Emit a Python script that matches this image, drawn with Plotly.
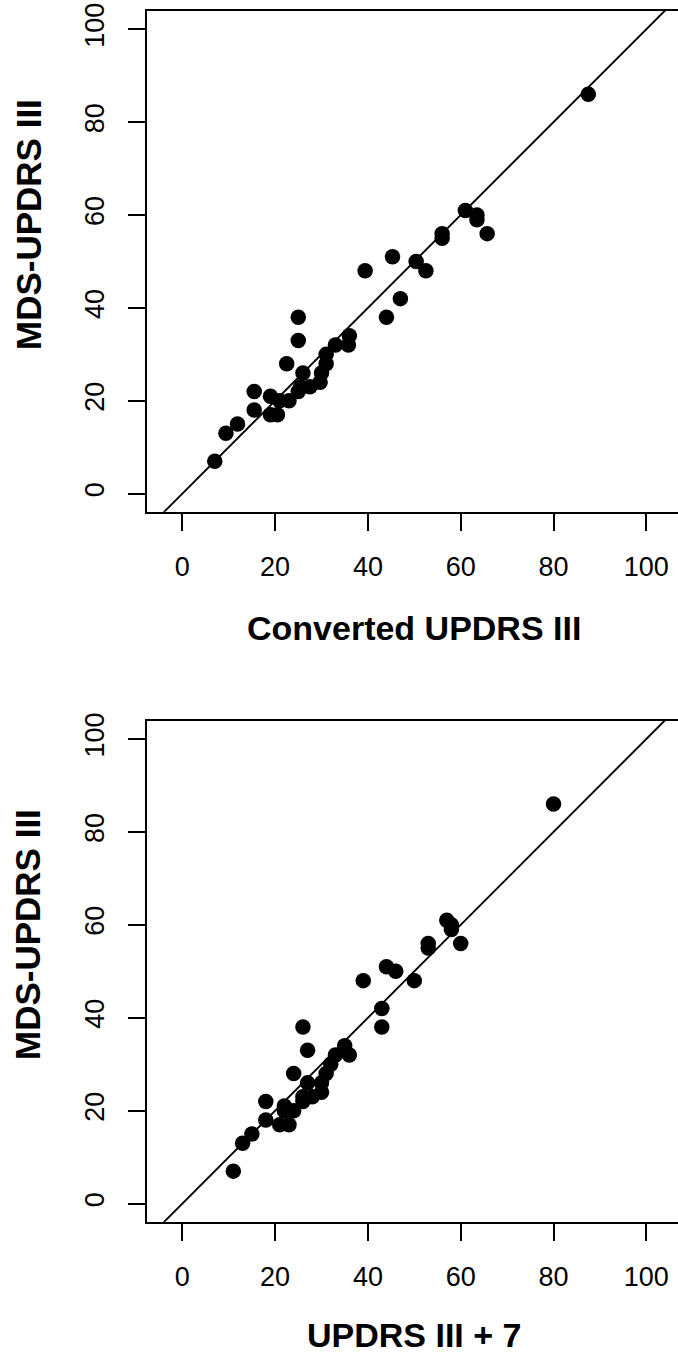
import plotly.graph_objects as go

# ---- data ----
mds_updrs_iii = [7, 13, 15, 22, 18, 21, 17, 17, 20, 20, 28, 38, 33, 22, 23, 26, 23, 24, 26,
                 28, 30, 32, 32, 34, 48, 38, 42, 51, 50, 48, 56, 55, 61, 60, 59, 56, 86]
converted_updrs_iii = [7, 9.4, 11.9, 15.5, 15.5, 19, 19, 20.5, 21, 23, 22.5, 25, 25, 25, 25.5,
                       26, 27.5, 29.7, 30, 31, 31, 33, 35.8, 36, 39.4, 44, 47, 45.3, 50.4, 52.5,
                       56, 56, 61, 63.5, 63.5, 65.7, 87.5]
updrs_iii_plus7 = [11, 13, 15, 18, 18, 22, 21, 23, 22, 24, 24, 26, 27, 26, 26, 27, 28, 30, 30,
                   31, 32, 33, 36, 35, 39, 43, 43, 44, 46, 50, 53, 53, 57, 58, 58, 60, 80]
identity_line = [-20, 130]          # y = x reference line (abline(0, 1))
tick_values = [0, 20, 40, 60, 80, 100]
tick_labels = ["0", "20", "40", "60", "80", "100"]
x_titles = ["Converted UPDRS III", "UPDRS III + 7"]
y_title = "MDS-UPDRS III"

W, H = 678, 1357
FONT = "Liberation Sans, Arial, Helvetica, sans-serif"

fig = go.Figure()
panels = [(converted_updrs_iii, "x", "y"), (updrs_iii_plus7, "x2", "y2")]
for xs, xa, ya in panels:
    fig.add_trace(go.Scatter(x=xs, y=mds_updrs_iii, mode="markers",
                             marker=dict(size=15.5, color="black", line=dict(width=0)),
                             xaxis=xa, yaxis=ya, hoverinfo="x+y"))
    fig.add_trace(go.Scatter(x=identity_line, y=identity_line, mode="lines",
                             line=dict(color="black", width=1.9),
                             xaxis=xa, yaxis=ya, hoverinfo="skip"))

x_left_px = 146.7
top_panel = (11.0, 511.7)
bot_panel = (720.7, 1221.7)

def ydom(p):
    return [(H - p[1]) / H, (H - p[0]) / H]

common_x = dict(range=[-7.67, 106.83], tickvals=tick_values, ticktext=tick_labels,
                ticks="outside", ticklen=17, tickwidth=1.9, tickcolor="black",
                showline=True, linewidth=2, linecolor="black", mirror=True,
                showgrid=False, zeroline=False, ticklabelstandoff=13,
                tickfont=dict(family=FONT, size=27, color="black"),
                domain=[x_left_px / W, 1.0], automargin=False, fixedrange=True)
common_y = dict(range=[-3.88, 103.94], tickvals=tick_values, ticktext=tick_labels,
                ticks="outside", ticklen=17, tickwidth=1.9, tickcolor="black",
                showline=True, linewidth=2, linecolor="black", mirror=False,
                showgrid=False, zeroline=False, tickangle=-90, ticklabelstandoff=13,
                tickfont=dict(family=FONT, size=27, color="black"),
                automargin=False, fixedrange=True)

fig.update_layout(
    width=W, height=H,
    margin=dict(l=0, r=0, t=0, b=0),
    paper_bgcolor="white", plot_bgcolor="white",
    showlegend=False,
    xaxis=dict(common_x, anchor="y"),
    yaxis=dict(common_y, anchor="x", domain=ydom(top_panel)),
    xaxis2=dict(common_x, anchor="y2"),
    yaxis2=dict(common_y, anchor="x2", domain=ydom(bot_panel)),
)

ann = []
for i, (xt, yc_x, yc_y) in enumerate([(x_titles[0], 628, 225), (x_titles[1], 1335, 935)]):
    ann.append(dict(text="<b>" + xt + "</b>", x=414 / W, y=(H - yc_x) / H,
                    xref="paper", yref="paper", xanchor="center", yanchor="middle",
                    showarrow=False, font=dict(family=FONT, size=34, color="black")))
    ann.append(dict(text="<b>" + y_title + "</b>", x=28 / W, y=(H - yc_y) / H,
                    xref="paper", yref="paper", xanchor="center", yanchor="middle",
                    textangle=-90, showarrow=False,
                    font=dict(family=FONT, size=35, color="black")))
fig.update_layout(annotations=ann)

fig.write_html("out.html", config={"displayModeBar": False},
               post_script="document.body.style.margin='0px';"
                           "document.body.style.overflow='hidden';")
